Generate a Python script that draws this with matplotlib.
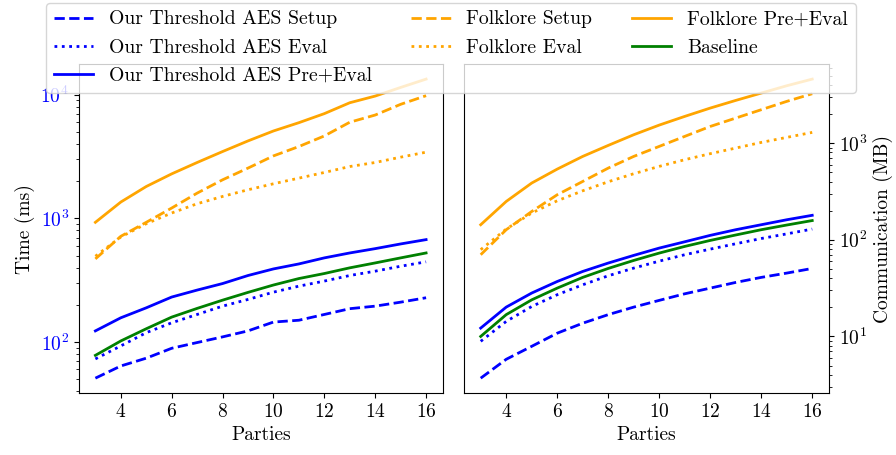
import numpy as np
import matplotlib
matplotlib.use('Agg')
import matplotlib.pyplot as plt

plt.rcParams['font.family'] = 'serif'
plt.rcParams['font.serif'] = ['cmr10']
plt.rcParams['mathtext.fontset'] = 'cm'
plt.rcParams['axes.formatter.use_mathtext'] = True
plt.rcParams['font.size'] = 14

parties = [3, 4, 5, 6, 7, 8, 9, 10, 11, 12, 13, 14, 15, 16]

# ---- time (ms)
time_ota_setup = [51, 64, 74, 89, 99, 110, 123, 145, 150, 167, 186, 195, 210, 228]
time_ota_eval = [73, 93, 119, 143, 167, 195, 221, 253, 283, 311, 345, 374, 410, 445]
time_ota_pre = [123, 157, 189, 231, 263, 297, 345, 390, 428, 479, 525, 569, 621, 673]
time_folk_setup = [470, 716, 929, 1212, 1600, 2050, 2550, 3200, 3810, 4640, 5990, 6850, 8360, 9820]
time_folk_eval = [494, 707, 905, 1105, 1313, 1504, 1703, 1904, 2115, 2350, 2625, 2830, 3125, 3430]
time_folk_pre = [929, 1355, 1810, 2290, 2830, 3470, 4230, 5090, 5940, 7030, 8610, 9750, 11450, 13370]
time_baseline = [78, 102, 128, 159, 187, 218, 252, 289, 326, 358, 398, 436, 479, 525]

# ---- communication (MB)
comm_ota_setup = [3.7, 5.8, 7.9, 10.8, 13.7, 16.8, 20.1, 23.6, 27.6, 31.6, 36.2, 40.8, 45.2, 50.5]
comm_ota_eval = [8.9, 14.3, 20.4, 27.0, 34.2, 42.4, 50.9, 60.1, 70.0, 80.0, 90.9, 103, 115, 129]
comm_ota_pre = [12.2, 20.1, 28.1, 37.0, 47.0, 57.4, 68.9, 82.0, 95.3, 111, 127, 143, 161, 179]
comm_folk_setup = [70, 127, 196, 292, 401, 551, 728, 924, 1173, 1486, 1814, 2214, 2700, 3240]
comm_folk_eval = [79, 129, 189, 253, 321, 398, 482, 574, 673, 777, 888, 1016, 1145, 1290]
comm_folk_pre = [143, 249, 386, 538, 728, 946, 1220, 1535, 1888, 2302, 2763, 3290, 3918, 4590]
comm_baseline = [10.0, 16.8, 23.9, 31.6, 40.8, 50.5, 61.1, 72.8, 85.3, 98.4, 112, 127, 142, 158]

labels = ['Our Threshold AES Setup', 'Our Threshold AES Eval', 'Our Threshold AES Pre+Eval',
          'Folklore Setup', 'Folklore Eval', 'Folklore Pre+Eval', 'Baseline']
colors = ['blue', 'blue', 'blue', 'orange', 'orange', 'orange', 'green']
styles = ['--', ':', '-', '--', ':', '-', '-']

time_series = [time_ota_setup, time_ota_eval, time_ota_pre, time_folk_setup,
               time_folk_eval, time_folk_pre, time_baseline]
comm_series = [comm_ota_setup, comm_ota_eval, comm_ota_pre, comm_folk_setup,
               comm_folk_eval, comm_folk_pre, comm_baseline]

fig = plt.figure(figsize=(8.96, 4.55), dpi=100)
ax1 = fig.add_axes([0.088, 0.136, 0.406, 0.723])
ax2 = fig.add_axes([0.518, 0.136, 0.407, 0.723])

for i in range(len(labels)):
    ax1.plot(parties, time_series[i], styles[i], color=colors[i], label=labels[i], lw=2)
    ax2.plot(parties, comm_series[i], styles[i], color=colors[i], lw=2)

ax1.set_yscale('log')
ax1.set_xlabel('Parties')
ax1.set_ylabel('Time (ms)')
ax1.tick_params(axis='y', which='both', labelcolor='blue')
ax1.set_xticks([4, 6, 8, 10, 12, 14, 16])

ax2.set_yscale('log')
ax2.set_xlabel('Parties')
ax2.set_ylabel('Communication (MB)')
ax2.yaxis.set_label_position('right')
ax2.yaxis.tick_right()
ax2.set_xticks([4, 6, 8, 10, 12, 14, 16])

fig.legend(loc='upper center', ncol=3, bbox_to_anchor=(0.503, 1.016),
           fontsize=14.2, labelspacing=0.52)

fig.savefig('out.png', dpi=100)
